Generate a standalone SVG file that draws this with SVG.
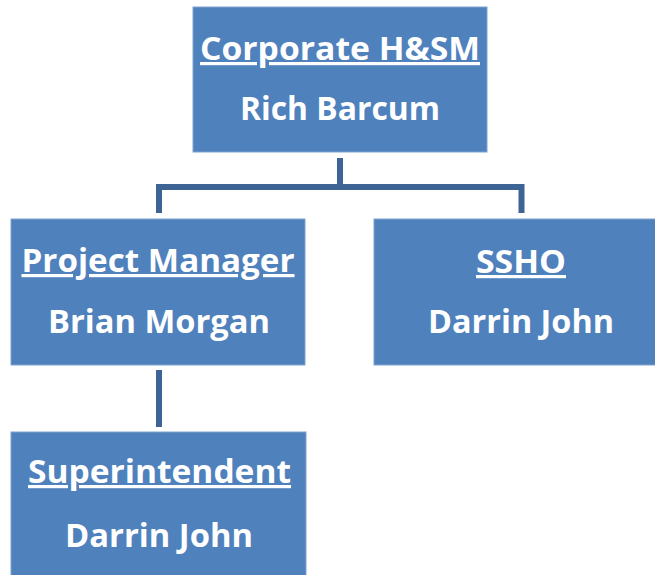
<svg xmlns="http://www.w3.org/2000/svg" width="655" height="575" viewBox="0 0 655 575">
<style>
.box{fill:#4F81BD;stroke:#7FA3D0;stroke-width:1}
.t{font-family:"Open Sans","Liberation Sans",sans-serif;font-weight:bold;font-size:32px;fill:#FFFFFF;text-anchor:middle}
.u{text-decoration:underline}
.c{fill:none;stroke:#3E6496;stroke-width:6;stroke-linejoin:miter;stroke-linecap:butt}
</style>
<rect width="655" height="575" fill="#FFFFFF"/>
<g id="connectors">
<path class="c" d="M340,158 V187"/>
<path class="c" d="M159,213 V187 H521.5 V213"/>
<path class="c" d="M159,370 V427" stroke-width="5"/>
</g>
<g id="corporate">
<rect class="box" x="193" y="7" width="294" height="145"/>
<text class="t u" x="340" y="60" textLength="280" lengthAdjust="spacingAndGlyphs">Corporate H&amp;SM</text>
<text class="t" x="340" y="120" textLength="200" lengthAdjust="spacingAndGlyphs">Rich Barcum</text>
</g>
<g id="project-manager">
<rect class="box" x="11" y="219" width="294" height="146"/>
<text class="t u" x="158" y="272" textLength="273" lengthAdjust="spacingAndGlyphs">Project Manager</text>
<text class="t" x="159" y="333" textLength="222" lengthAdjust="spacingAndGlyphs">Brian Morgan</text>
</g>
<g id="ssho">
<rect class="box" x="374" y="219" width="290" height="146"/>
<text class="t u" x="521" y="273" textLength="90" lengthAdjust="spacingAndGlyphs">SSHO</text>
<text class="t" x="521" y="333" textLength="186" lengthAdjust="spacingAndGlyphs">Darrin John</text>
</g>
<g id="superintendent">
<rect class="box" x="11" y="432" width="295" height="160"/>
<text class="t u" x="159.5" y="483" textLength="263" lengthAdjust="spacingAndGlyphs">Superintendent</text>
<text class="t" x="159" y="547" textLength="188" lengthAdjust="spacingAndGlyphs">Darrin John</text>
</g>
</svg>
